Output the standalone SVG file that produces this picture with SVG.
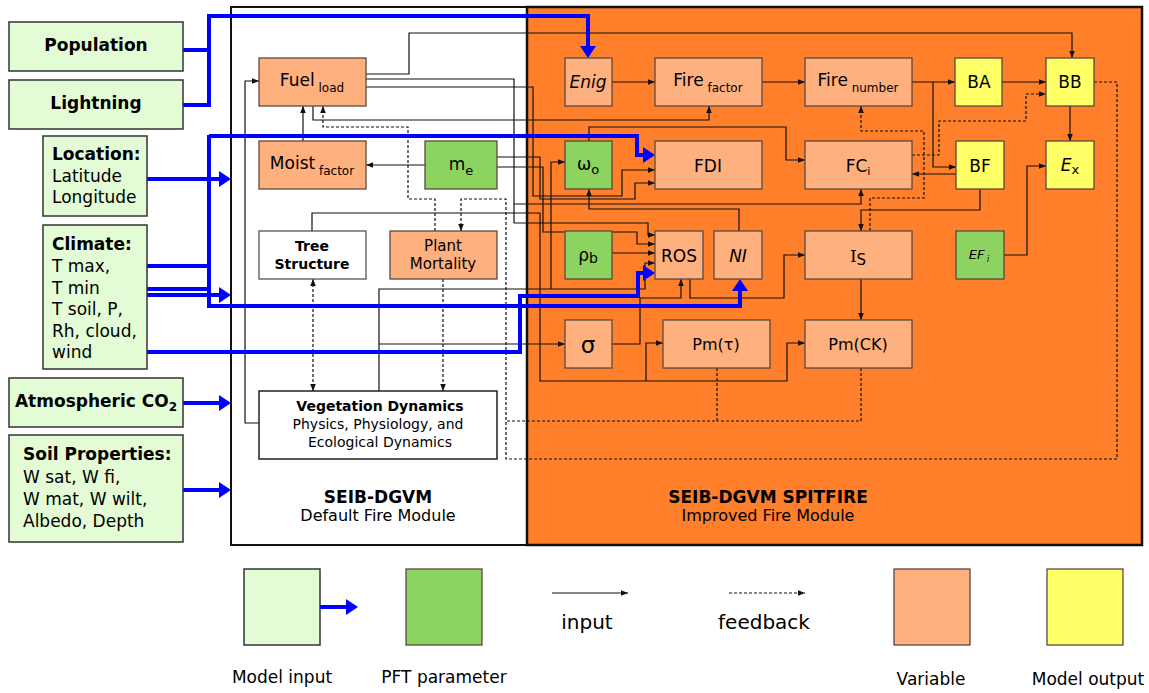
<svg xmlns="http://www.w3.org/2000/svg" width="1149" height="693" viewBox="0 0 1149 693">
<defs>
<style>
text{font-family:"DejaVu Sans",Verdana,sans-serif;fill:#000}
.inp{fill:#E3FCD5;stroke:#333;stroke-width:1.5}
.var{fill:#FFB07F;stroke:#5a4a40;stroke-width:1.3}
.pft{fill:#8DD35F;stroke:#5a4a40;stroke-width:1.3}
.out{fill:#FFFF66;stroke:#5a4a40;stroke-width:1.3}
.wht{fill:#fff;stroke:#555;stroke-width:1.3}
.c{fill:none;stroke:#111;stroke-width:1.2}
.cd{fill:none;stroke:#111;stroke-width:1.2;stroke-dasharray:3 2}
.bl{fill:none;stroke:#0000FF;stroke-width:4}
.ib{font-size:17px;font-weight:bold}
.ir{font-size:17px}
.n{font-size:17px;text-anchor:middle}
.m{text-anchor:middle}
.s{font-size:12px}
.sm{font-size:15px;text-anchor:middle}
.smb{font-size:14px;text-anchor:middle;font-weight:bold}
.vd{font-size:14px;text-anchor:middle}
.ttl{font-size:17px;font-weight:bold;text-anchor:middle}
.sub{font-size:16px;text-anchor:middle}
.lg{font-size:17px;text-anchor:middle}
.lg2{font-size:20px;text-anchor:middle}
</style>
<marker id="ar" viewBox="0 0 10 10" refX="10" refY="5" markerWidth="7" markerHeight="7" markerUnits="userSpaceOnUse" orient="auto"><path d="M0,1 L10,5 L0,9z" fill="#111"/></marker>
<marker id="ars" viewBox="0 0 10 10" refX="10" refY="5" markerWidth="7" markerHeight="7" markerUnits="userSpaceOnUse" orient="auto-start-reverse"><path d="M0,1 L10,5 L0,9z" fill="#111"/></marker>
<marker id="ab" viewBox="0 0 12 16" refX="0" refY="8" markerWidth="12" markerHeight="16" markerUnits="userSpaceOnUse" orient="auto"><path d="M0,0 L12,8 L0,16z" fill="#0000FF"/></marker>
</defs>

<g id="panel-default">
<rect x="231" y="7" width="296" height="538" fill="#fff" stroke="#111" stroke-width="2"/>
<text x="378" y="503" class="ttl">SEIB-DGVM</text>
<text x="378" y="521" class="sub">Default Fire Module</text>
</g>
<g id="panel-spitfire">
<rect x="527" y="7" width="615" height="538" fill="#FF7F2A" stroke="#111" stroke-width="2.5"/>
<text x="768" y="503" class="ttl">SEIB-DGVM SPITFIRE</text>
<text x="768" y="521" class="sub">Improved Fire Module</text>
</g>

<g id="connectors">
<path class="c" marker-end="url(#ar)" d="M366,74 H409 V33 H1072 V58"/>
<path class="c" marker-end="url(#ar)" d="M366,87 H533 V196 H622 V170 H655"/>
<path class="c" marker-end="url(#ar)" d="M366,79 H514 V204 H861 V189"/>
<path class="c" marker-end="url(#ar)" d="M514,204 V223 H648 V235 H655"/>
<path class="c" marker-end="url(#ar)" d="M313,106 V120 H709 V106"/>
<path class="c" marker-end="url(#ar)" d="M303,141 V106"/>
<path class="c" marker-end="url(#ar)" d="M425,165 H366"/>
<path class="c" marker-end="url(#ar)" d="M497,157 H540 V199 H635 V183 H655"/>
<path class="c" marker-end="url(#ar)" d="M497,167 H543 V232 H637 V244 H655"/>
<path class="c" marker-end="url(#ar)" d="M612,253 H655"/>
<path class="c" marker-end="url(#ar)" d="M259,423 H245 V81 H259"/>
<path class="c" marker-end="url(#ar)" d="M379,391 V289 H645 V263 H655"/>
<path class="c" marker-end="url(#ar)" d="M379,344 H565"/>
<path class="c" marker-end="url(#ar)" d="M551,289 V162 H565"/>
<path class="c" marker-end="url(#ar)" d="M612,344 H640 V298 H681 V279"/>
<path class="c" marker-end="url(#ar)" d="M312,231 V213 H540 V381 H787 V343 H805"/>
<path class="c" marker-end="url(#ar)" d="M646,381 V343 H663"/>
<path class="c" marker-end="url(#ar)" d="M739,231 V209 H589 V189"/>
<path class="c" marker-end="url(#ar)" d="M589,141 V127 H786 V160 H805"/>
<path class="c" marker-end="url(#ar)" d="M690,279 V298 H784 V255 H805"/>
<path class="c" marker-end="url(#ar)" d="M612,82 H655"/>
<path class="c" marker-end="url(#ar)" d="M762,82 H805"/>
<path class="c" marker-end="url(#ar)" d="M912,82 H955"/>
<path class="c" marker-end="url(#ar)" d="M1002,82 H1046"/>
<path class="c" marker-end="url(#ar)" d="M933,82 V167 H956"/>
<path class="c" marker-end="url(#ar)" d="M956,174 H912"/>
<path class="c" marker-end="url(#ar)" d="M980,189 V210 H861 V231"/>
<path class="c" marker-end="url(#ar)" d="M1070,106 V141"/>
<path class="c" marker-end="url(#ar)" d="M1004,255 H1027 V166 H1046"/>
<path class="c" marker-end="url(#ar)" d="M861,279 V320"/>
<path class="cd" marker-end="url(#ar)" d="M870,231 V198 H924 V131 H861 V106"/>
<path class="cd" marker-end="url(#ar)" d="M912,155 H939 V121 H1026 V94 H1046"/>
<path class="cd" marker-end="url(#ar)" d="M1094,82 H1117 V459 H506 V199 H461 V231"/>
<path class="cd" d="M717,368 V421 H506"/>
<path class="cd" d="M861,368 V421 H717"/>
<path class="cd" marker-end="url(#ar)" d="M435,231 V199 H408 V127 H323 V106"/>
<path class="cd" marker-start="url(#ars)" marker-end="url(#ars)" d="M313,279 V391"/>
<path class="cd" marker-end="url(#ar)" d="M443,279 V391"/>
<path class="bl" d="M183,50 H209"/>
<path class="bl" marker-end="url(#ab)" d="M183,105 H209 V16 H588 V46"/>
<path class="bl" marker-end="url(#ab)" d="M147,179 H219"/>
<path class="bl" d="M122,266 H209"/>
<path class="bl" d="M122,289 H209"/>
<path class="bl" marker-end="url(#ab)" d="M209,135 V136 H637 V155 H643"/>
<path class="bl" marker-end="url(#ab)" d="M209,135 V306 H740 V291"/>
<path class="bl" marker-end="url(#ab)" d="M147,295 H219"/>
<path class="bl" marker-end="url(#ab)" d="M122,352 H520 V296 H638 V273 H643"/>
<path class="bl" marker-end="url(#ab)" d="M183,403 H219"/>
<path class="bl" marker-end="url(#ab)" d="M183,490 H219"/>
</g>

<g id="population"><rect class="inp" x="9" y="22" width="174" height="49"/><text x="96" y="51" class="ib m">Population</text></g>
<g id="lightning"><rect class="inp" x="9" y="80" width="174" height="49"/><text x="96" y="109" class="ib m">Lightning</text></g>
<g id="location"><rect class="inp" x="43" y="136" width="104" height="80"/>
<text x="52" y="160" class="ib">Location:</text><text x="52" y="182" class="ir">Latitude</text><text x="52" y="203" class="ir">Longitude</text></g>
<g id="climate"><rect class="inp" x="43" y="225" width="104" height="144"/>
<text x="52" y="250" class="ib">Climate:</text><text x="52" y="272" class="ir">T max,</text><text x="52" y="294" class="ir">T min</text><text x="52" y="315" class="ir">T soil, P,</text><text x="52" y="337" class="ir">Rh, cloud,</text><text x="52" y="358" class="ir">wind</text></g>
<g id="co2"><rect class="inp" x="9" y="378" width="174" height="49"/><text x="96" y="407" class="ib m">Atmospheric CO<tspan font-size="12" dy="4">2</tspan></text></g>
<g id="soil"><rect class="inp" x="9" y="435" width="174" height="107"/>
<text x="23" y="460" class="ib">Soil Properties:</text><text x="23" y="483" class="ir">W sat, W fi,</text><text x="23" y="505" class="ir">W mat, W wilt,</text><text x="23" y="527" class="ir">Albedo, Depth</text></g>

<g id="fuel-load"><rect class="var" x="259" y="58" width="107" height="48"/><text x="312" y="86" class="n">Fuel<tspan class="s" dy="6"> load</tspan></text></g>
<g id="moist-factor"><rect class="var" x="259" y="141" width="107" height="48"/><text x="312" y="169" class="n">Moist<tspan class="s" dy="6"> factor</tspan></text></g>
<g id="me"><rect class="pft" x="425" y="141" width="72" height="48"/><text x="461" y="170" class="n">m<tspan font-size="13" dy="5">e</tspan></text></g>
<g id="tree-structure"><rect class="wht" x="259" y="231" width="107" height="48"/><text x="312" y="251" class="smb">Tree</text><text x="312" y="269" class="smb">Structure</text></g>
<g id="plant-mortality"><rect class="var" x="390" y="231" width="107" height="48"/><text x="443" y="251" class="sm">Plant</text><text x="443" y="269" class="sm">Mortality</text></g>
<g id="vegetation-dynamics"><rect x="259" y="391" width="238" height="68" fill="#fff" stroke="#222" stroke-width="1.5"/>
<text x="380" y="411" class="smb">Vegetation Dynamics</text><text x="378" y="429" class="vd">Physics, Physiology, and</text><text x="380" y="447" class="vd">Ecological Dynamics</text></g>

<g id="enig"><rect class="var" x="565" y="58" width="47" height="48"/><text x="588" y="88" class="n" font-style="italic">Enig</text></g>
<g id="fire-factor"><rect class="var" x="655" y="58" width="107" height="48"/><text x="708" y="86" class="n">Fire<tspan class="s" dy="6"> factor</tspan></text></g>
<g id="fire-number"><rect class="var" x="805" y="58" width="107" height="48"/><text x="858" y="86" class="n">Fire<tspan class="s" dy="6"> number</tspan></text></g>
<g id="ba"><rect class="out" x="955" y="58" width="47" height="48"/><text x="979" y="88" class="n">BA</text></g>
<g id="bb"><rect class="out" x="1046" y="58" width="48" height="48"/><text x="1070" y="88" class="n">BB</text></g>
<g id="omega-o"><rect class="pft" x="565" y="141" width="47" height="48"/><text x="588" y="170" class="n">ω<tspan font-size="13" dy="4">o</tspan></text></g>
<g id="fdi"><rect class="var" x="655" y="141" width="107" height="48"/><text x="708" y="172" class="n">FDI</text></g>
<g id="fc-i"><rect class="var" x="805" y="141" width="107" height="48"/><text x="858" y="172" class="n">FC<tspan font-size="11" dy="3" fill="#000">i</tspan></text></g>
<g id="bf"><rect class="out" x="956" y="141" width="48" height="48"/><text x="980" y="172" class="n">BF</text></g>
<g id="ex"><rect class="out" x="1046" y="141" width="48" height="48"/><text x="1070" y="171" class="n"><tspan font-style="italic">E</tspan><tspan font-size="13" dy="3">x</tspan></text></g>
<g id="rho-b"><rect class="pft" x="565" y="231" width="47" height="48"/><text x="588" y="261" class="n">ρ<tspan font-size="14" dy="2">b</tspan></text></g>
<g id="ros"><rect class="var" x="655" y="231" width="48" height="48"/><text x="679" y="262" class="n">ROS</text></g>
<g id="ni"><rect class="var" x="714" y="231" width="48" height="48"/><text x="738" y="262" class="n" font-style="italic">NI</text></g>
<g id="i-s"><rect class="var" x="805" y="231" width="107" height="48"/><text x="858" y="262" class="n"><tspan font-family="DejaVu Serif,serif">I</tspan><tspan font-size="15" dy="3">S</tspan></text></g>
<g id="ef-i"><rect class="pft" x="956" y="231" width="48" height="48"/><text x="979" y="259" font-size="13" text-anchor="middle" font-style="italic">EF<tspan font-size="8" dy="3"> i</tspan></text></g>
<g id="sigma"><rect class="var" x="565" y="320" width="47" height="48"/><text x="588" y="353" font-size="23" text-anchor="middle">σ</text></g>
<g id="pm-tau"><rect class="var" x="663" y="320" width="107" height="48"/><text x="716" y="350" font-size="16" text-anchor="middle">Pm(τ)</text></g>
<g id="pm-ck"><rect class="var" x="805" y="320" width="107" height="48"/><text x="858" y="350" font-size="16" text-anchor="middle">Pm(CK)</text></g>

<g id="legend">
<rect class="inp" x="244" y="569" width="76" height="76"/>
<path class="bl" marker-end="url(#ab)" d="M320,607 H346"/>
<rect class="pft" x="406" y="569" width="76" height="76" stroke="#333"/>
<path class="c" marker-end="url(#ar)" d="M552,593 H628"/>
<path class="cd" marker-end="url(#ar)" d="M729,593 H805"/>
<text x="587" y="629" class="lg2">input</text>
<text x="764" y="629" class="lg2">feedback</text>
<rect class="var" x="894" y="569" width="76" height="76" stroke="#333"/>
<rect class="out" x="1047" y="569" width="76" height="76" stroke="#333"/>
<text x="282" y="683" class="lg">Model input</text>
<text x="444" y="683" class="lg">PFT parameter</text>
<text x="931" y="685" class="lg">Variable</text>
<text x="1088" y="685" class="lg">Model output</text>
</g>
</svg>
